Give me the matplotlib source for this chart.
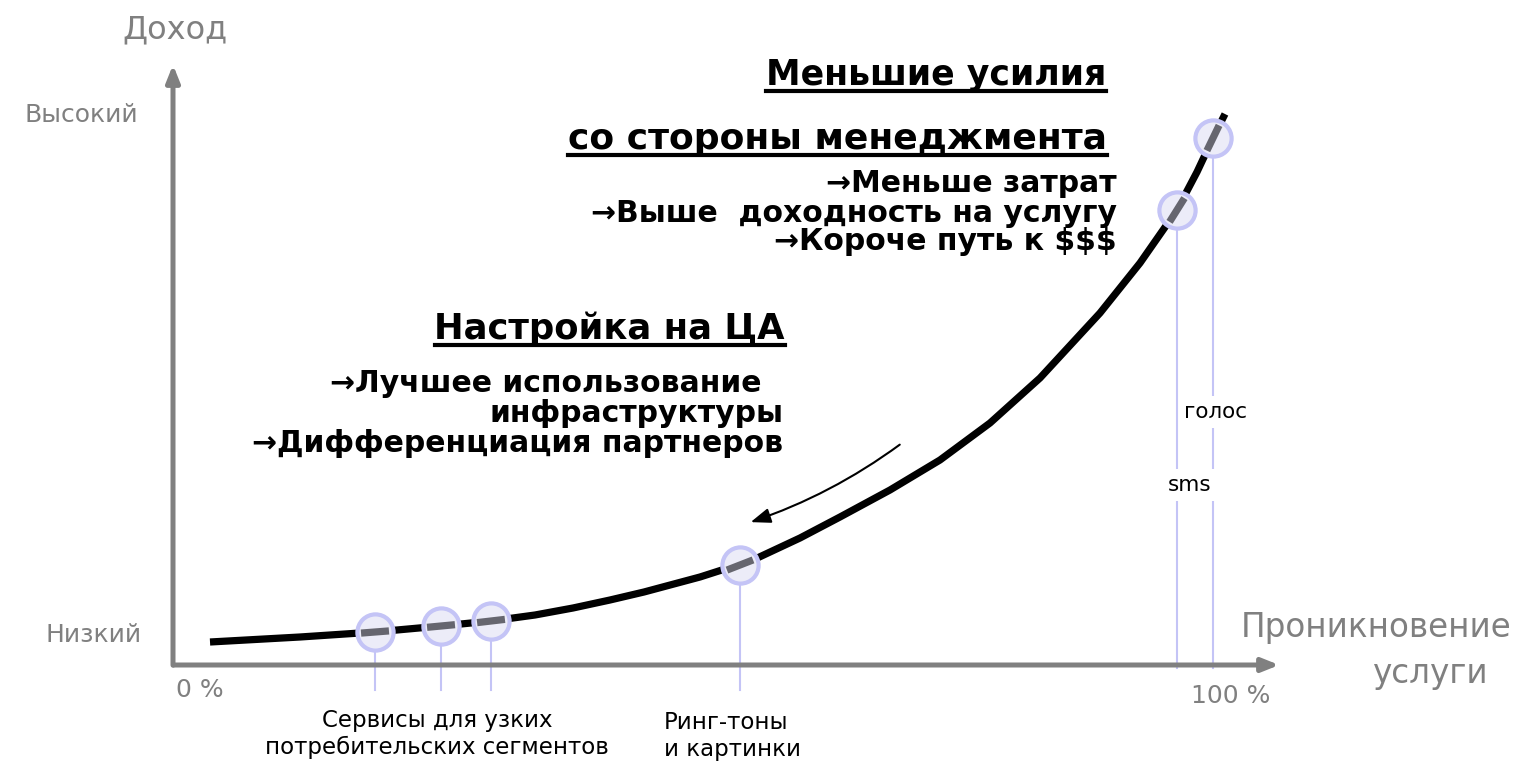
import numpy as np
import matplotlib.pyplot as plt
from matplotlib.lines import Line2D

plt.rcParams['font.family'] = ['DejaVu Sans']

# кривая доход / проникновение (в пикселях картинки)
curve_x = [210, 300, 375, 441, 491, 535, 573, 610, 644, 700, 753, 800, 840, 890, 940, 990, 1040,
           1100, 1140, 1177, 1197, 1213, 1225]
curve_y = [642, 637, 632, 626, 621, 615, 608, 600, 592, 577, 560, 538, 517, 490, 460, 423, 378,
           313, 263, 210, 172, 138, 114]

# точки-сервисы
svc_x = [375, 441, 491, 740, 1177, 1213]
svc_y = [632, 626, 621, 565, 210, 138]
svc_bottom = [690, 690, 690, 690, 668, 668]

gray = '#808080'
lav = '#c4c4f6'

fig = plt.figure(figsize=(15.16, 7.64), dpi=100)
ax = fig.add_axes([0, 0, 1, 1])
ax.set_xlim(0, 1516)
ax.set_ylim(764, 0)
ax.axis('off')

# оси
ax.annotate('', xy=(173, 62), xytext=(173, 668),
            arrowprops=dict(arrowstyle='-|>,head_length=1.0,head_width=0.4', color=gray, lw=3.6))
ax.annotate('', xy=(1282, 665), xytext=(171, 665),
            arrowprops=dict(arrowstyle='-|>,head_length=1.0,head_width=0.4', color=gray, lw=3.6))

# вертикальные линии
for x, y, b in zip(svc_x, svc_y, svc_bottom):
    ax.plot([x, x], [y + 16, b], color=lav, lw=1.5, zorder=1)

# кривая
ax.plot(curve_x, curve_y, color='black', lw=5.2, solid_capstyle='butt',
        solid_joinstyle='round', zorder=2)

# кружки
cx = np.array(curve_x, dtype=float)
cy = np.array(curve_y, dtype=float)
for x, y in zip(svc_x, svc_y):
    ax.scatter([x], [y], s=680, facecolor='#ececf8', edgecolor=lav, linewidth=3, zorder=3)
    i = int(np.argmin(np.abs(cx - x)))
    j0, j1 = max(i - 1, 0), min(i + 1, len(cx) - 1)
    dx, dy = cx[j1] - cx[j0], cy[j1] - cy[j0]
    n = np.hypot(dx, dy)
    dx, dy = dx / n * 14, dy / n * 14
    ax.plot([x - dx, x + dx], [y - dy, y + dy], color='#66666f', lw=5.2,
            solid_capstyle='butt', zorder=4)

# подписи осей
ax.text(175, 30, 'Доход', fontsize=23, color=gray, ha='center', va='center')
ax.text(138, 115, 'Высокий', fontsize=18, color=gray, ha='right', va='center')
ax.text(142, 635, 'Низкий', fontsize=18, color=gray, ha='right', va='center')
ax.text(200, 690, '0 %', fontsize=18, color=gray, ha='center', va='center')
ax.text(1231, 696, '100 %', fontsize=18, color=gray, ha='center', va='center')
ax.text(1376, 628, 'Проникновение', fontsize=23.5, color=gray, ha='center', va='center')
ax.text(1431, 674, 'услуги', fontsize=23.5, color=gray, ha='center', va='center')

# подписи сервисов
ax.text(437, 734, 'Сервисы для узких\nпотребительских сегментов', fontsize=16.5,
        ha='center', va='center', linespacing=1.2)
ax.text(664, 736, 'Ринг-тоны\nи картинки', fontsize=16.5, ha='left', va='center',
        linespacing=1.2)
ax.text(1190, 485, 'sms', fontsize=15.5, ha='center', va='center', zorder=5,
        bbox=dict(facecolor='white', edgecolor='none', pad=4))
ax.text(1216, 412, 'голос', fontsize=15.5, ha='center', va='center', zorder=5,
        bbox=dict(facecolor='white', edgecolor='none', pad=4))

# блоки текста
underlined = []
underlined.append(ax.text(1106, 75, 'Меньшие усилия', fontsize=25, fontweight='bold',
                          ha='right', va='center'))
underlined.append(ax.text(1107, 139, 'со стороны менеджмента', fontsize=26, fontweight='bold',
                          ha='right', va='center'))
ax.text(1117, 184, '\u2192Меньше затрат', fontsize=21.5, fontweight='bold', ha='right', va='center')
ax.text(1117, 213, '\u2192Выше  доходность на услугу', fontsize=21.5, fontweight='bold',
        ha='right', va='center')
ax.text(1117, 242, '\u2192Короче путь к $$$', fontsize=21.5, fontweight='bold', ha='right', va='center')

underlined.append(ax.text(785, 329, 'Настройка на ЦА', fontsize=25.5, fontweight='bold',
                          ha='right', va='center'))
ax.text(330, 383, '\u2192Лучшее использование', fontsize=21.5, fontweight='bold', ha='left', va='center')
ax.text(783, 413, 'инфраструктуры', fontsize=21.5, fontweight='bold', ha='right', va='center')
ax.text(783, 443, '\u2192Дифференциация партнеров', fontsize=21.5, fontweight='bold',
        ha='right', va='center')

# подчеркивание
fig.canvas.draw()
r = fig.canvas.get_renderer()
inv = ax.transData.inverted()
for t in underlined:
    bb = t.get_window_extent(r)
    (x0, y0), (x1, y1) = inv.transform([(bb.x0, bb.y0), (bb.x1, bb.y1)])
    ax.add_line(Line2D([x0, x1], [y0 - 1, y0 - 1], color='black', lw=3))

# стрелка
ax.annotate('', xy=(748, 523), xytext=(902, 443),
            arrowprops=dict(arrowstyle='-|>,head_length=1.2,head_width=0.45', color='black',
                            lw=1.5, connectionstyle='arc3,rad=-0.08'))

fig.savefig('out.png', dpi=100)
